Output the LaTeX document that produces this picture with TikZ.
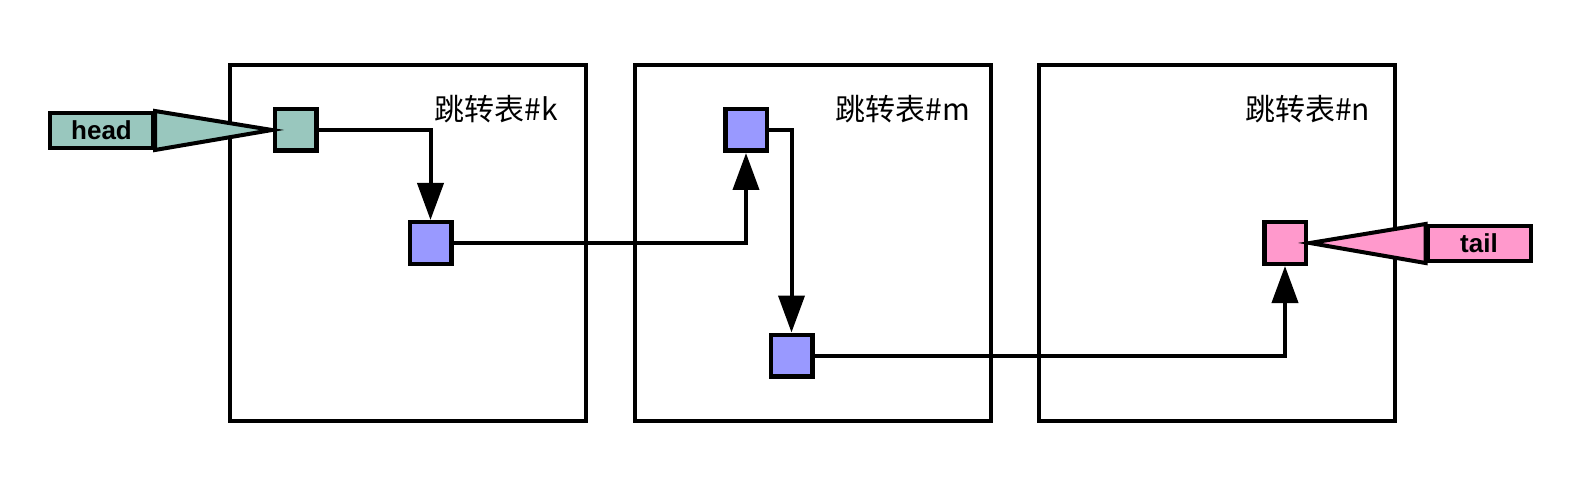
\documentclass[tikz,border=0pt]{standalone}
\usepackage{fontspec}
\setmainfont{Liberation Sans}
\newfontfamily\cjk{Noto Sans CJK SC}
\usetikzlibrary{arrows.meta}
\definecolor{headc}{RGB}{153,199,190}
\definecolor{bluec}{RGB}{153,153,255}
\definecolor{pinkc}{RGB}{255,153,204}
\tikzset{
  frame/.style={draw=black, line width=4pt, minimum width=356pt, minimum height=356pt, inner sep=0pt},
  sq/.style={draw=black, line width=4.5pt, minimum size=41.5pt, inner sep=0pt},
  tagbox/.style={draw=black, line width=4pt, minimum width=103pt, minimum height=35pt, inner sep=0pt, font=\fontsize{26}{30}\selectfont\bfseries},
  tagtri/.style={draw=black, line width=4pt, line join=miter},
  conn/.style={draw=black, line width=4pt, -{Triangle[length=37pt,width=26pt]}},
  lbl/.style={font=\cjk\fontsize{30}{36}\selectfont, inner sep=0pt}
}
\begin{document}
\begin{tikzpicture}[x=1pt,y=-1pt]
\useasboundingbox (0,0) rectangle (1590,497);
% frames
\node[frame] (fk) at (408,243) {};
\node[frame] (fm) at (812.5,243) {};
\node[frame] (fn) at (1217,243) {};
% labels
\node[lbl] (lk) at (496,109) {跳转表\#k};
\node[lbl] (lm) at (903,109) {跳转表\#m};
\node[lbl] (ln) at (1307.5,109) {跳转表\#n};
% squares
\node[sq, fill=headc] (h) at (295.5,130) {};
\node[sq, fill=bluec] (k1) at (430.5,243) {};
\node[sq, fill=bluec] (m1) at (746,130) {};
\node[sq, fill=bluec] (m2) at (791.5,355.5) {};
\node[sq, fill=pinkc] (t) at (1285,243) {};
% connectors
\draw[conn] (h.east) -| (k1.north);
\draw[conn] (k1.east) -| (m1.south);
\draw[conn] (m1.east) -| (m2.north);
\draw[conn] (m2.east) -| (t.south);
% head / tail tags
\node[tagbox, fill=headc] (hb) at (101.5,130.5) {head};
\coordinate (htip) at (272,130);
\filldraw[tagtri, fill=headc] (hb.north east) -- (htip) -- (hb.south east) -- cycle;
\node[tagbox, fill=pinkc] (tb) at (1479,243.5) {tail};
\coordinate (ttip) at (1310,243);
\filldraw[tagtri, fill=pinkc] (tb.north west) -- (ttip) -- (tb.south west) -- cycle;
\end{tikzpicture}
\end{document}
